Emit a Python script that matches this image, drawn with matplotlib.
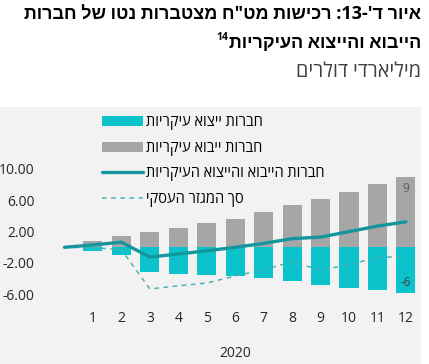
import re
import numpy as np
import matplotlib
matplotlib.use("Agg")
import matplotlib.pyplot as plt
from matplotlib.patches import Rectangle

plt.rcParams['font.family'] = ['Open Sans', 'Liberation Sans', 'DejaVu Sans']

# נתונים
months = list(range(1, 13))
month_labels = [str(m) for m in months]
imports = [0.75, 1.5, 2.0, 2.5, 3.05, 3.65, 4.5, 5.4, 6.1, 7.05, 8.0, 8.9]
exports = [-0.45, -0.95, -3.2, -3.4, -3.5, -3.65, -3.9, -4.3, -4.8, -5.15, -5.45, -5.8]
line_x = list(range(0, 13))
net_main = [0.0, 0.3, 0.65, -1.25, -0.85, -0.45, 0.0, 0.5, 1.1, 1.3, 2.0, 2.7, 3.25]
net_sector = [0.0, -0.05, -0.3, -5.3, -4.9, -4.55, -3.65, -2.85, -1.85, -2.9, -2.2, -1.3, -1.15]
yticks = [10, 6, 2, -2, -6]

title1 = "איור ד'-13: רכישות מט\"ח מצטברות נטו של חברות"
title2 = "הייבוא והייצוא העיקריות"
subtitle = "מיליארדי דולרים"
lbl_exp = "חברות ייצוא עיקריות"
lbl_imp = "חברות ייבוא עיקריות"
lbl_net = "חברות הייבוא והייצוא העיקריות"
lbl_sec = "סך המגזר העסקי"


def heb(s):
    # היפוך לתצוגה מימין לשמאל, מספרים נשארים משמאל לימין
    r = s[::-1]
    return re.sub(r'\d+', lambda m: m.group(0)[::-1], r)


W, H = 429, 364
fig = plt.figure(figsize=(W / 100, H / 100), dpi=100)
fig.patch.set_facecolor('white')
fig.patches.append(Rectangle((0, 0), 421 / W, (H - 107) / H, transform=fig.transFigure,
                             facecolor='#F2F2F2', edgecolor='none', zorder=-5))

ax = fig.add_axes([50 / W, 59 / H, 371 / W, 145 / H])
ax.set_facecolor('none')
ax.set_zorder(2)

b1 = ax.bar(months, exports, width=0.67, color='#0CC3CB', zorder=2)
b2 = ax.bar(months, imports, width=0.67, color='#A6A6A6', zorder=2)
l2, = ax.plot(line_x, net_sector, color='#4FB0B2', lw=1.1, ls=(0, (3, 3)), zorder=3)
l1, = ax.plot(line_x, net_main, color='#14979C', lw=2.4, zorder=4, solid_capstyle='round')

ax.text(12, imports[-1] - 0.6, "9", ha='center', va='top', fontsize=8.5, color='#595959', zorder=5)
ax.text(12, exports[-1] + 0.5, "-6", ha='center', va='bottom', fontsize=8.5, color='#404040', zorder=5)

ax.set_xlim(-0.51, 12.53)
ax.set_ylim(-7.35, 11.12)
ax.set_xticks(months)
ax.set_xticklabels(month_labels)
ax.set_yticks(yticks)
ax.set_yticklabels(["%.2f" % v for v in yticks])
ax.tick_params(length=0, labelsize=10, colors='#262626')
ax.tick_params(axis='y', pad=11)
ax.tick_params(axis='x', pad=4)
for s in ax.spines.values():
    s.set_visible(False)
ax.set_xlabel("2020", fontsize=10, color='#262626', labelpad=15)

leg = fig.legend([b1, b2, l1, l2],
                 [heb(lbl_exp), heb(lbl_imp), heb(lbl_net), heb(lbl_sec)],
                 loc='upper left', bbox_to_anchor=(95 / W, 1 - 108 / H),
                 frameon=False, fontsize=10.5, handlelength=2.8, handletextpad=0.2,
                 labelspacing=0.72, borderpad=0)
leg.set_zorder(3)

# כותרות
fig.text(421 / W, 1 - 15 / H, heb(title1), ha='right', va='center', fontsize=13,
         fontweight='bold', color='#000000')
t2 = fig.text(421 / W, 1 - 43 / H, heb(title2), ha='right', va='center', fontsize=13,
              fontweight='bold', color='#000000')
fig.canvas.draw()
bb = t2.get_window_extent(fig.canvas.get_renderer())
fig.text(bb.x0 / W - 0.002, 1 - 38 / H, "14", ha='right', va='center', fontsize=7.5,
         fontweight='bold', color='#000000')
fig.text(421 / W, 1 - 72 / H, heb(subtitle), ha='right', va='center', fontsize=14.3,
         color='#404040')

fig.savefig('out.png', dpi=100)
